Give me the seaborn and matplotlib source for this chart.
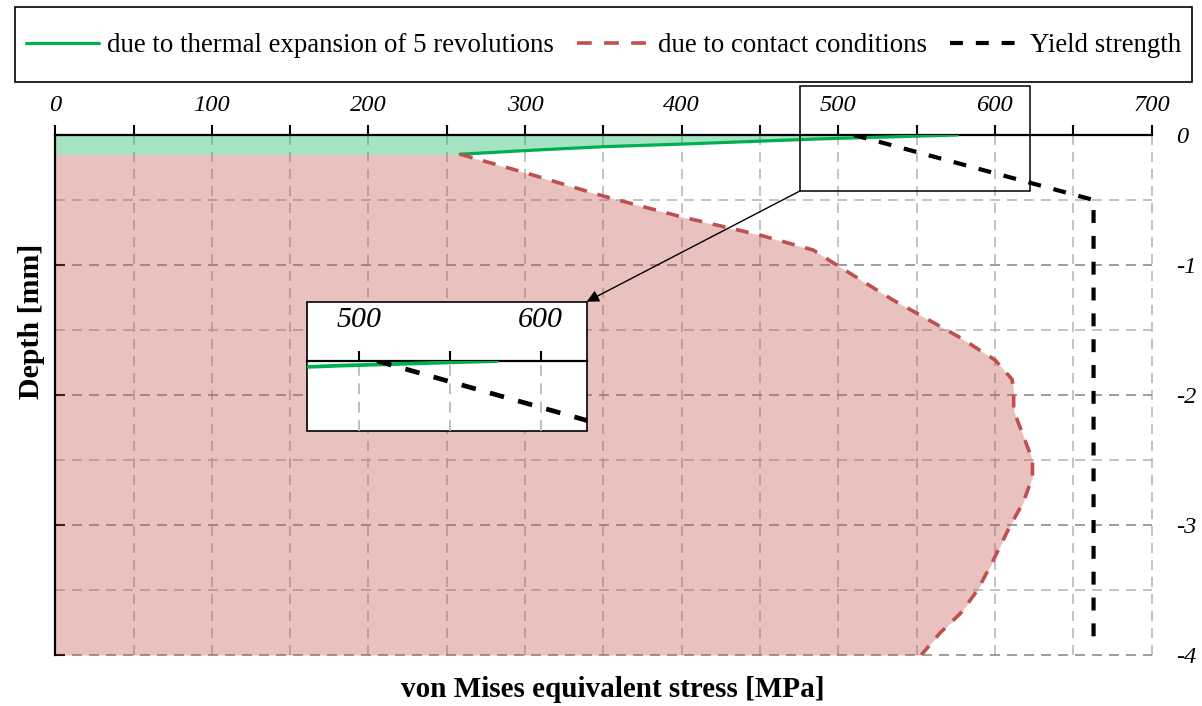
import numpy as np
import pandas as pd
import matplotlib
matplotlib.use("Agg")
import matplotlib.pyplot as plt
from matplotlib.patches import Rectangle
from matplotlib.ticker import MultipleLocator, FixedLocator
import seaborn as sns

# ---------------- data ----------------
thermal_depth = [0.0, -0.03, -0.07, -0.09, -0.12, -0.148]
thermal_stress = [576, 488, 400, 350, 300, 258.5]

contact_depth = [-0.148, -0.29, -0.47, -0.63, -0.77, -0.885, -1.0, -1.27, -1.37,
                 -1.56, -1.73, -1.88, -1.99, -2.12, -2.5, -2.63, -2.83, -3.0,
                 -3.27, -3.5, -3.68, -3.83, -4.0]
contact_stress = [258.5, 300, 350, 400, 450, 484, 499, 535, 550,
                  578, 600, 611, 612, 612, 624, 624, 618, 610,
                  599, 589, 578, 565, 553]

yield_depth = [0.0, -0.5, -3.95]
yield_stress = [510, 663, 663]

series_labels = ["due to thermal expansion of 5 revolutions",
                 "due to contact conditions",
                 "Yield strength"]

x_ticks = [0, 100, 200, 300, 400, 500, 600, 700]
x_tick_labels = ["0", "100", "200", "300", "400", "500", "600", "700"]
y_ticks = [0, -1, -2, -3, -4]
y_tick_labels = ["0", "-1", "-2", "-3", "-4"]
inset_ticks = [500, 550, 600]
inset_tick_labels = ["500", "", "600"]

x_label = "von Mises equivalent stress [MPa]"
y_label = "Depth [mm]"

# zoom window (source rectangle) and inset view limits
zoom_x = (475.6, 622.5)
zoom_y = (-0.43, 0.38)
inset_xlim = (471.5, 625.3)
inset_ylim = (-0.442, 0.0)

# ---------------- style ----------------
sns.set_theme(style="white")
plt.rcParams["font.family"] = ["Liberation Serif", "DejaVu Serif"]
plt.rcParams["axes.unicode_minus"] = False
for key in ["text.color", "axes.labelcolor", "xtick.color", "ytick.color",
            "xtick.labelcolor", "ytick.labelcolor"]:
    plt.rcParams[key] = "black"

GREEN = "#00B050"
RED = "#C0504D"
BLACK = "#000000"
GRID_LIGHT = "#b9b9b9"
GRID_DARK = "#8c8c8c"
grid_ls = (0, (6, 4.2))

W, H = 1202, 706
fig = plt.figure(figsize=(W / 100, H / 100), dpi=100)

def px_box(x0, y0, x1, y1):
    return [x0 / W, 1 - y1 / H, (x1 - x0) / W, (y1 - y0) / H]

ax = fig.add_axes(px_box(55.2, 135, 1151.5, 655))

df_th = pd.DataFrame({"stress": thermal_stress, "depth": thermal_depth})
df_ct = pd.DataFrame({"stress": contact_stress, "depth": contact_depth})
df_y = pd.DataFrame({"stress": yield_stress, "depth": yield_depth})

# fills
ax.fill_betweenx(df_th["depth"], 0, df_th["stress"], color=GREEN, alpha=0.35, lw=0, zorder=1)
ax.fill_betweenx(df_ct["depth"], 0, df_ct["stress"], color=RED, alpha=0.35, lw=0, zorder=1)

red_ls = (0, (3.6, 3.0))
blk_ls = (0, (3.1, 3.1))

sns.lineplot(data=df_th, x="stress", y="depth", sort=False, estimator=None, ax=ax,
             color=GREEN, lw=2.3, label=series_labels[0], zorder=3)
sns.lineplot(data=df_ct, x="stress", y="depth", sort=False, estimator=None, ax=ax,
             color=RED, lw=2.6, linestyle=red_ls, label=series_labels[1], zorder=3)
sns.lineplot(data=df_y, x="stress", y="depth", sort=False, estimator=None, ax=ax,
             color=BLACK, lw=3.0, linestyle=blk_ls, label=series_labels[2], zorder=3)

handles, labels = ax.get_legend_handles_labels()
ax.get_legend().remove()

ax.set_xlim(0, 700)
ax.set_ylim(-4, 0)
ax.set_axisbelow(True)

ax.xaxis.set_major_locator(FixedLocator(x_ticks))
ax.set_xticklabels(x_tick_labels, fontstyle="italic", fontsize=17.6, color="black")
ax.xaxis.set_minor_locator(MultipleLocator(50))
ax.xaxis.tick_top()
ax.tick_params(axis="x", which="both", top=True, bottom=False, labeltop=True,
               labelbottom=False, direction="out", length=7, width=1.5,
               color="black", labelcolor="black", pad=7)

ax.yaxis.set_major_locator(FixedLocator(y_ticks))
ax.set_yticklabels(y_tick_labels, fontstyle="italic", fontsize=17.6, color="black")
ax.yaxis.set_minor_locator(MultipleLocator(0.5))
ax.tick_params(axis="y", which="major", left=True, right=False, labelleft=False,
               labelright=True, direction="in", length=7, width=1.5,
               color="black", labelcolor="black", pad=18)
ax.tick_params(axis="y", which="minor", left=False, right=False)

ax.grid(True, axis="x", which="both", color=GRID_LIGHT, linestyle=grid_ls, lw=1.2)
ax.grid(True, axis="y", which="minor", color=GRID_LIGHT, linestyle=grid_ls, lw=1.2)
ax.grid(True, axis="y", which="major", color=GRID_DARK, linestyle=grid_ls, lw=1.2)
for gl in ax.get_xgridlines() + ax.get_ygridlines():
    gl.set_clip_on(False)
for t in ax.xaxis.get_minor_ticks() + ax.yaxis.get_minor_ticks():
    t.gridline.set_clip_on(False)

for side in ["right", "bottom"]:
    ax.spines[side].set_visible(False)
for side in ["top", "left"]:
    ax.spines[side].set_visible(True)
    ax.spines[side].set_color("black")
    ax.spines[side].set_linewidth(1.6)

ax.set_xlabel(x_label, fontsize=21, fontweight="bold", color="black")
ax.xaxis.set_label_position("bottom")
ax.xaxis.set_label_coords(0.509, -0.04)
ax.set_ylabel(y_label, fontsize=21.5, fontweight="bold", color="black")
ax.yaxis.set_label_coords(-0.009, 0.642)

# zoom source rectangle
ax.add_patch(Rectangle((zoom_x[0], zoom_y[0]), zoom_x[1] - zoom_x[0], zoom_y[1] - zoom_y[0],
                       fill=False, ec="black", lw=1.1, clip_on=False, zorder=6))

# ---------------- inset ----------------
frame_box = px_box(307.3, 301.7, 586.7, 430.7)
frame = Rectangle((frame_box[0], frame_box[1]), frame_box[2], frame_box[3],
                  transform=fig.transFigure, fc="white", ec="black", lw=1.2, zorder=1)
fig.add_artist(frame)

ax_in = fig.add_axes(px_box(307.3, 361, 586.7, 430.7), zorder=2)
ax_in.patch.set_alpha(0)
sns.lineplot(data=df_th, x="stress", y="depth", sort=False, estimator=None, ax=ax_in,
             color=GREEN, lw=2.7, zorder=3)
sns.lineplot(data=df_y, x="stress", y="depth", sort=False, estimator=None, ax=ax_in,
             color=BLACK, lw=3.4, linestyle=blk_ls, zorder=3)
ax_in.set_xlim(*inset_xlim)
ax_in.set_ylim(*inset_ylim)
ax_in.set_axisbelow(True)
ax_in.xaxis.set_major_locator(FixedLocator(inset_ticks))
ax_in.set_xticklabels(inset_tick_labels, fontstyle="italic", fontsize=21.5, color="black")
ax_in.xaxis.tick_top()
ax_in.tick_params(axis="x", top=True, bottom=False, labeltop=True, labelbottom=False,
                  direction="out", length=7, width=1.5, color="black",
                  labelcolor="black", pad=13)
ax_in.set_yticks([])
ax_in.grid(True, axis="x", color=GRID_LIGHT, linestyle=grid_ls, lw=1.3)
ax_in.grid(False, axis="y")
for side in ["left", "right", "bottom"]:
    ax_in.spines[side].set_visible(False)
ax_in.spines["top"].set_color("black")
ax_in.spines["top"].set_linewidth(1.6)
ax_in.set_xlabel("")
ax_in.set_ylabel("")

# arrow from zoom rectangle to inset
ax.annotate("", xy=(frame_box[0] + frame_box[2], frame_box[1] + frame_box[3]),
            xycoords="figure fraction",
            xytext=(zoom_x[0], zoom_y[0]), textcoords="data",
            arrowprops=dict(arrowstyle="-|>", color="black", lw=1.0,
                            shrinkA=0, shrinkB=0, mutation_scale=18),
            annotation_clip=False, zorder=6)

# ---------------- legend ----------------
leg_box = px_box(15, 7.3, 1192, 81.7)
fig.add_artist(Rectangle((leg_box[0], leg_box[1]), leg_box[2], leg_box[3],
                         transform=fig.transFigure, fill=False, ec="black", lw=1.2))
leg = fig.legend(handles, labels, loc="center", bbox_to_anchor=(604 / W, 1 - 46 / H),
                 ncol=3, frameon=False, fontsize=19.4, handlelength=2.7,
                 handletextpad=0.3, columnspacing=0.85, borderpad=0.2, borderaxespad=0,
                 labelcolor="black")
leg_lines = leg.get_lines()
leg_lines[1].set_linestyle((0, (4.1, 3.4)))

fig.savefig("out.png", dpi=100)
